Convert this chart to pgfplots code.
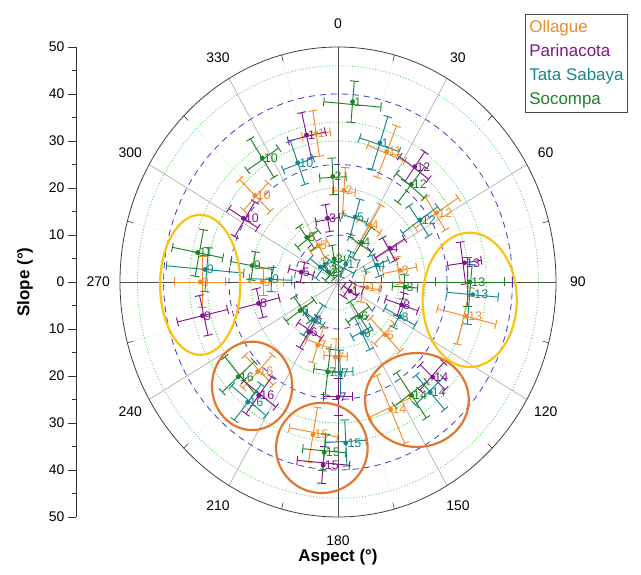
\documentclass[border=0pt]{standalone}
\usepackage{pgfplots}
\pgfplotsset{compat=1.18}
\usepackage{pgfplotstable}
\usepackage{fontspec}
\setmainfont{Liberation Sans}
\usetikzlibrary{arrows.meta}
\definecolor{oll}{RGB}{240,140,40}
\definecolor{par}{RGB}{130,20,140}
\definecolor{tat}{RGB}{20,135,140}
\definecolor{soc}{RGB}{30,130,40}
\definecolor{bluedash}{RGB}{60,60,200}
\definecolor{greendot}{RGB}{90,210,90}
\definecolor{yel}{RGB}{250,195,20}
\definecolor{orc}{RGB}{225,120,45}

% columns: aspect (deg), slope (deg), aspect error, slope error, label
\pgfplotstableread{
a s ea es lab
351 32 6 5 1
22 29.9 9 6 11
57 27 9 6 12
314 26.5 9 5 10
4 19.5 8 5 2
31 14.2 12 5 4
80 14.4 12 4 8
104 30.4 12 7 13
136 15.6 12 5 6
100 6.8 30 3 17
156 29.7 10 8 14
190 33 10 6 15
224 26.5 10 5 16
182 16 10 4 7
199 14.2 12 4 7
270 31.6 10 6 9
270 17.4 10 5 9
330 9 15 3 5
}\ollague
\pgfplotstableread{
a s ea es lab
347 32.1 8 5 1
302 25.6 10 4 10
350 13.8 12 3 3
35.7 30.2 8 4 12
59 13.9 12 4 4
82 29.3 9 4 13
108.5 15.4 10 4 8
125 3.4 35 2 17
133 29.7 8 4 14
217 30.2 9 5 16
185 39.1 9 4 15
180 24.5 8 4 7
212 12.6 15 4 6
257 31.9 8 6 9
256 18.8 10 5 8
284 8.7 15 3 5
}\parinacota
\pgfplotstableread{
a s ea es lab
18 31.1 9 6 1
340 27 8 5 10
16 14.4 12 4 5
55 23 10 5 12
68 9.6 15 3 4
95 31 12 6 13
117.5 16 10 4 8
153 12.2 12 4 6
138 31.6 8 5 14
219 32.9 9 5 16
177 34.3 8 5 15
178.5 19.4 9 5 7
215 9.9 15 4 6
275 30.6 9 9 9
272 15.5 10 5 9
308 5.2 30 3 3
25 4.2 40 3 17
}\tatasabaya
\pgfplotstableread{
a s ea es lab
5 38.5 10 4.5 1
357 22.5 8 4 2
39 26.7 9 5 12
326.6 31.6 8 5 10
323 11.9 15 3 5
33 10 18 4 4
350 5 30 3 3
315 3 40 2 17
280 20 9 5 9
281 32.8 9 6 11
90 30.2 10 8 13
94 15.4 10 3 8
146 8.9 20 4 6
145 29.4 9 6 14
228.6 30.5 10 5 16
185 36.4 8 4 15
187 19.3 10 5 7
235 10.6 18 4 6
}\socompa

\newcommand\drawseries[2]{%
  % radial (slope) error bars
  \addplot[#2, line width=0.95bp, {Bar[width=9bp]}-{Bar[width=9bp]}, no markers, forget plot,
    quiver={u={2*\thisrow{es}*sin(\thisrow{a})}, v={2*\thisrow{es}*cos(\thisrow{a})}}]
    table[x expr={(\thisrow{s}-\thisrow{es})*sin(\thisrow{a})},
          y expr={(\thisrow{s}-\thisrow{es})*cos(\thisrow{a})}] {#1};
  % tangential (aspect) error bars
  \addplot[#2, line width=0.95bp, {Bar[width=9bp]}-{Bar[width=9bp]}, no markers, forget plot,
    quiver={u={\thisrow{s}*(sin(\thisrow{a}+\thisrow{ea})-sin(\thisrow{a}-\thisrow{ea}))},
            v={\thisrow{s}*(cos(\thisrow{a}+\thisrow{ea})-cos(\thisrow{a}-\thisrow{ea}))}}]
    table[x expr={\thisrow{s}*sin(\thisrow{a}-\thisrow{ea})},
          y expr={\thisrow{s}*cos(\thisrow{a}-\thisrow{ea})}] {#1};
  % points with labels
  \addplot[#2, only marks, mark=*, mark size=2.2bp, forget plot,
    point meta=explicit symbolic, nodes near coords,
    every node near coord/.append style={anchor=west, text=#2, inner sep=1.5pt,
      font=\fontsize{12.5}{13}\selectfont}]
    table[x expr={\thisrow{s}*sin(\thisrow{a})}, y expr={\thisrow{s}*cos(\thisrow{a})}, meta=lab] {#1};
}

\begin{document}
\begin{tikzpicture}
\useasboundingbox (0,0) rectangle (641bp,575bp);

% left slope scale
\begin{axis}[at={(76bp,293bp)}, anchor=west, scale only axis, width=1bp, height=470bp,
  ymin=-50, ymax=50, xmin=0, xmax=1, hide x axis, axis y line=left,
  axis line style={-, black!80},
  ytick={-50,-40,...,50}, yticklabels={50,40,30,20,10,0,10,20,30,40,50},
  minor ytick={-45,-35,...,45},
  tick align=outside, major tick length=8bp, minor tick length=4bp, tick style={black!80},
  /pgf/number format/assume math mode=true,
  tick label style={font=\fontsize{14}{16}\selectfont},
  ylabel={\bfseries Slope (°)},
  ylabel style={font=\fontsize{17}{19}\selectfont, at={(axis description cs:-51,0.5)}, anchor=center}]
\addplot[draw=none] coordinates {(0,0)};
\end{axis}

% polar field
\begin{axis}[at={(338bp,293bp)}, anchor=center, scale only axis, width=436bp, height=470bp,
  xmin=-50, xmax=50, ymin=-50, ymax=50, hide axis, clip=false,
  legend style={at={(0.929,1.07)}, anchor=north west, draw=black!70, line width=0.6bp,
     font=\fontsize{17}{19}\selectfont, row sep=6.3bp, inner xsep=2bp, inner ysep=4bp},
  legend cell align=left]

% grid
\pgfplotsinvokeforeach{10,20,30,40}{
  \draw[black!22, dotted, line width=0.6bp] (axis cs:0,0) ellipse [x radius=#1, y radius=#1];
}
\pgfplotsinvokeforeach{6,14,20,30,34,46}{
  \draw[greendot, dotted, line width=0.9bp] (axis cs:0,0) ellipse [x radius=#1, y radius=#1];
}
\pgfplotsinvokeforeach{10,25,40}{
  \draw[bluedash, dash pattern=on 6bp off 5bp, line width=0.8bp] (axis cs:0,0) ellipse [x radius=#1, y radius=#1];
}
\pgfplotsinvokeforeach{15,45,75,105,135,165,195,225,255,285,315,345}{
  \draw[black!22, dotted, line width=0.6bp] (axis cs:0,0) -- (axis cs:{50*sin(#1)},{50*cos(#1)});
  \draw[black!75, line width=0.6bp] (axis cs:{48.6*sin(#1)},{48.6*cos(#1)}) -- (axis cs:{50*sin(#1)},{50*cos(#1)});
}
\pgfplotsinvokeforeach{30,60,120,150,210,240,300,330}{
  \draw[black!35, line width=0.6bp] (axis cs:0,0) -- (axis cs:{50*sin(#1)},{50*cos(#1)});
}
\draw[black!70, line width=0.7bp] (axis cs:0,-50) -- (axis cs:0,50);
\draw[black!70, line width=0.7bp] (axis cs:-50,0) -- (axis cs:50,0);
\draw[black!75, line width=0.8bp] (axis cs:0,0) ellipse [x radius=50, y radius=50];

\pgfplotsinvokeforeach{0,30,60,90,120,150,180,210,240,270,300,330}{
  \node[font=\fontsize{14}{16}\selectfont] at (axis cs:{55*sin(#1)},{55*cos(#1)}) {#1};
}
\node[font=\fontsize{17}{19}\selectfont\bfseries] at (rel axis cs:0.5,-0.085) {Aspect (°)};

% data
\drawseries{\ollague}{oll}
\drawseries{\parinacota}{par}
\drawseries{\tatasabaya}{tat}
\drawseries{\socompa}{soc}

% annotation ellipses
\draw[yel, line width=2.2bp] (axis cs:-31.6,-0.6) ellipse [x radius=9.2, y radius=14.9];
\draw[yel, line width=2.2bp] (axis cs:30.2,-3.8) ellipse [x radius=10.8, y radius=14.3];
\draw[orc, line width=2.2bp] (axis cs:-19.7,-22.1) ellipse [x radius=9.2, y radius=9.4];
\draw[orc, line width=2.2bp] (axis cs:-3.7,-35.3) ellipse [x radius=10.5, y radius=9.6];
\draw[orc, line width=2.2bp] (axis cs:18.1,-25.1) ellipse [x radius=11.9, y radius=10];

\addlegendimage{empty legend}\addlegendentry{\textcolor{oll}{Ollague}}
\addlegendimage{empty legend}\addlegendentry{\textcolor{par}{Parinacota}}
\addlegendimage{empty legend}\addlegendentry{\textcolor{tat}{Tata Sabaya}}
\addlegendimage{empty legend}\addlegendentry{\textcolor{soc}{Socompa}}
\end{axis}
\end{tikzpicture}
\end{document}
